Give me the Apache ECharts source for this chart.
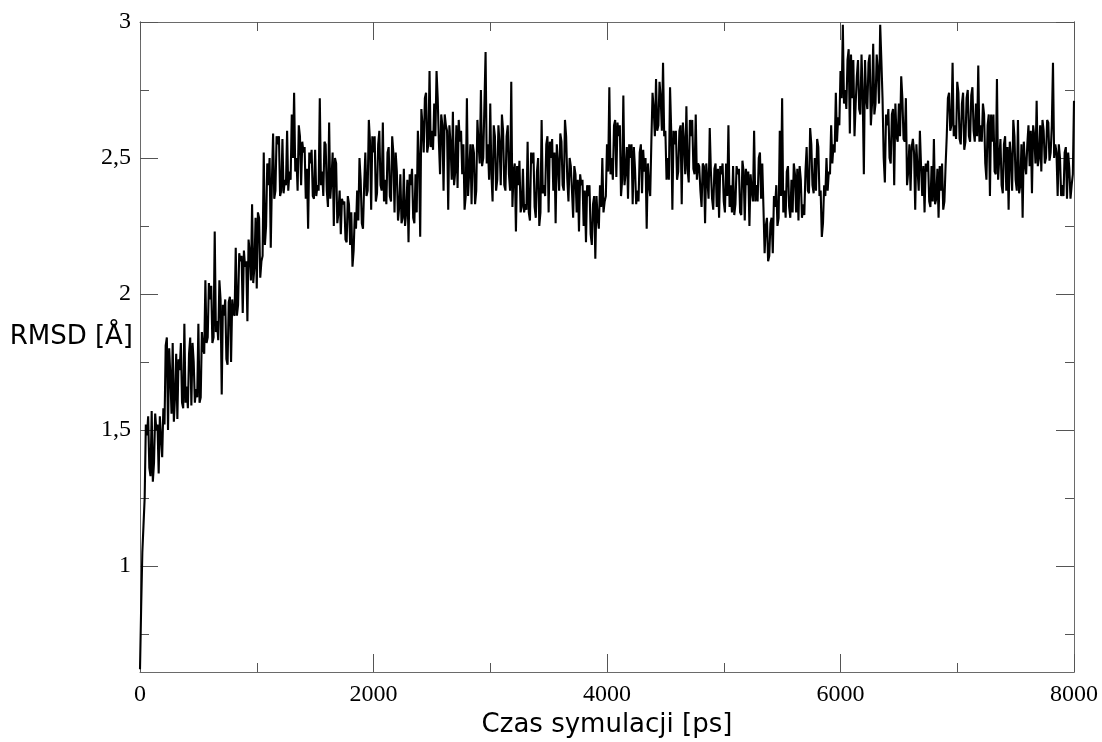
<!DOCTYPE html>
<html>
<head>
<meta charset="utf-8">
<script src="https://cdn.jsdelivr.net/npm/echarts@6/dist/echarts.min.js"></script>
<style>
html,body{margin:0;padding:0;background:#fff;}
#chart{width:1102px;height:742px;}
</style>
</head>
<body>
<div id="chart"></div>
<script>
// Trace with two interleaved samplings:
// rmsdAt20ps: values at t = 0, 20, 40, ... 8000 ps
// rmsdOffset10ps: values at t = 10, 30, 50, ... 7990 ps
const timeStepPs = 20;
const rmsdAt20ps = [
  0.62,1.05,1.25,1.48,1.36,1.57,1.38,1.50,1.34,1.47, // 0
  1.58,1.81,1.50,1.70,1.82,1.62,1.54,1.72,1.60,1.89, // 200
  1.66,1.78,1.59,1.75,1.65,1.89,1.62,1.80,2.05,1.84, // 400
  1.98,1.82,2.23,1.90,2.05,1.63,1.92,1.76,1.97,1.75, // 600
  1.93,2.17,1.96,2.12,1.93,2.10,1.90,2.15,2.33,2.10, // 800
  2.02,2.28,2.12,2.52,2.25,2.40,2.17,2.59,2.38,2.55, // 1000
  2.36,2.57,2.42,2.60,2.45,2.66,2.74,2.50,2.62,2.40, // 1200
  2.52,2.35,2.24,2.48,2.36,2.53,2.40,2.72,2.45,2.56, // 1400
  2.38,2.63,2.42,2.25,2.48,2.30,2.22,2.33,2.20,2.36, // 1600
  2.18,2.10,2.30,2.38,2.50,2.26,2.40,2.36,2.64,2.31, // 1800
  2.52,2.34,2.55,2.40,2.63,2.42,2.52,2.36,2.58,2.30, // 2000
  2.45,2.32,2.26,2.46,2.30,2.19,2.40,2.28,2.44,2.60, // 2200
  2.21,2.62,2.72,2.52,2.82,2.60,2.70,2.82,2.56,2.66, // 2400
  2.38,2.62,2.31,2.55,2.67,2.45,2.39,2.56,2.44,2.31, // 2600
  2.72,2.45,2.33,2.52,2.38,2.55,2.75,2.50,2.89,2.55, // 2800
  2.70,2.34,2.58,2.42,2.55,2.66,2.40,2.58,2.44,2.78, // 3000
  2.45,2.23,2.40,2.30,2.46,2.33,2.56,2.27,2.48,2.32, // 3200
  2.45,2.25,2.64,2.40,2.55,2.30,2.50,2.38,2.26,2.48, // 3400
  2.59,2.40,2.64,2.42,2.50,2.38,2.47,2.30,2.23,2.40, // 3600
  2.25,2.19,2.36,2.22,2.33,2.13,2.28,2.40,2.50,2.34, // 3800
  2.55,2.76,2.50,2.62,2.43,2.58,2.36,2.73,2.45,2.35, // 4000
  2.50,2.33,2.46,2.38,2.52,2.37,2.45,2.24,2.40,2.56, // 4200
  2.68,2.79,2.62,2.72,2.85,2.60,2.50,2.76,2.31,2.55, // 4400
  2.42,2.60,2.33,2.56,2.69,2.41,2.58,2.46,2.66,2.48, // 4600
  2.38,2.48,2.26,2.42,2.61,2.35,2.46,2.32,2.28,2.44, // 4800
  2.34,2.48,2.62,2.40,2.47,2.33,2.44,2.30,2.49,2.27, // 5000
  2.40,2.25,2.38,2.60,2.40,2.50,2.35,2.32,2.25,2.12, // 5200
  2.26,2.15,2.32,2.25,2.60,2.72,2.38,2.45,2.32,2.42, // 5400
  2.48,2.30,2.27,2.42,2.33,2.45,2.38,2.61,2.40,2.50, // 5600
  2.57,2.36,2.21,2.40,2.50,2.45,2.62,2.55,2.74,2.65, // 5800
  2.82,2.99,2.75,2.86,2.59,2.72,2.58,2.80,2.68,2.88, // 6000
  2.44,2.72,2.85,2.62,2.92,2.70,2.82,2.99,2.72,2.41, // 6200
  2.62,2.50,2.66,2.40,2.58,2.70,2.80,2.57,2.72,2.45, // 6400
  2.38,2.57,2.31,2.46,2.60,2.36,2.30,2.45,2.34,2.47, // 6600
  2.57,2.35,2.28,2.38,2.31,2.47,2.72,2.60,2.85,2.62, // 6800
  2.78,2.57,2.70,2.53,2.72,2.58,2.73,2.60,2.70,2.84, // 7000
  2.62,2.70,2.48,2.62,2.36,2.56,2.45,2.79,2.50,2.40, // 7200
  2.55,2.38,2.31,2.50,2.64,2.42,2.64,2.40,2.28,2.48, // 7400
  2.55,2.47,2.37,2.58,2.71,2.50,2.45,2.60,2.50,2.63, // 7600
  2.52,2.85,2.55,2.36,2.50,2.40,2.52,2.35,2.46,2.40, // 7800
  2.71                                                // 8000
];
const rmsdOffset10ps = [
  0.85,1.15,1.52,1.55,1.33,1.31,1.56,1.52,1.55,1.40, // 10
  1.52,1.84,1.80,1.56,1.53,1.78,1.76,1.82,1.58,1.60, // 210
  1.58,1.84,1.82,1.60,1.62,1.60,1.86,1.78,1.82,2.04, // 410
  2.03,1.84,1.86,1.83,1.98,1.96,1.98,1.74,1.99,1.98, // 610
  1.92,1.92,2.15,2.14,2.16,2.12,2.20,2.05,2.04,2.28, // 810
  2.30,2.06,2.14,2.18,2.48,2.50,2.42,2.35,2.58,2.58, // 1010
  2.38,2.37,2.40,2.38,2.42,2.50,2.45,2.38,2.58,2.56, // 1210
  2.54,2.46,2.52,2.53,2.35,2.36,2.38,2.40,2.36,2.55, // 1410
  2.32,2.35,2.52,2.50,2.26,2.38,2.35,2.34,2.19,2.33, // 1610
  2.30,2.16,2.24,2.27,2.42,2.24,2.52,2.38,2.56,2.58, // 1810
  2.58,2.37,2.60,2.38,2.34,2.33,2.54,2.34,2.52,2.52, // 2010
  2.27,2.44,2.28,2.25,2.42,2.44,2.46,2.26,2.30,2.50, // 2210
  2.68,2.52,2.74,2.55,2.54,2.53,2.58,2.72,2.44,2.62, // 2410
  2.66,2.60,2.62,2.42,2.40,2.62,2.64,2.60,2.55,2.36, // 2610
  2.36,2.55,2.55,2.33,2.64,2.48,2.47,2.50,2.48,2.42, // 2810
  2.44,2.62,2.38,2.62,2.40,2.60,2.38,2.62,2.38,2.32, // 3010
  2.48,2.47,2.49,2.32,2.30,2.31,2.30,2.52,2.52,2.28, // 3210
  2.50,2.30,2.37,2.36,2.58,2.56,2.57,2.52,2.55,2.38, // 3410
  2.56,2.38,2.58,2.34,2.47,2.28,2.44,2.42,2.44,2.42, // 3610
  2.38,2.40,2.40,2.18,2.36,2.36,2.24,2.32,2.30,2.36, // 3810
  2.45,2.44,2.42,2.64,2.63,2.62,2.42,2.40,2.54,2.55, // 4010
  2.55,2.54,2.33,2.34,2.55,2.53,2.50,2.48,2.36,2.74, // 4210
  2.58,2.60,2.78,2.60,2.58,2.42,2.42,2.60,2.60,2.60, // 4410
  2.45,2.62,2.63,2.44,2.46,2.64,2.64,2.44,2.42,2.47, // 4610
  2.32,2.47,2.48,2.35,2.45,2.31,2.48,2.46,2.47,2.48, // 4810
  2.30,2.36,2.32,2.30,2.29,2.47,2.46,2.29,2.45,2.46, // 5010
  2.45,2.44,2.34,2.34,2.34,2.52,2.48,2.15,2.28,2.14, // 5210
  2.28,2.36,2.40,2.28,2.36,2.30,2.28,2.47,2.28,2.30, // 5410
  2.44,2.46,2.47,2.28,2.29,2.54,2.37,2.55,2.37,2.38, // 5610
  2.54,2.38,2.26,2.36,2.38,2.44,2.48,2.52,2.56,2.62, // 5810
  2.72,2.70,2.68,2.90,2.88,2.86,2.70,2.86,2.66,2.74, // 6010
  2.86,2.68,2.88,2.70,2.66,2.88,2.70,2.86,2.50,2.66, // 6210
  2.68,2.48,2.68,2.70,2.56,2.58,2.72,2.56,2.40,2.55, // 6410
  2.54,2.52,2.55,2.38,2.47,2.47,2.48,2.49,2.32,2.34, // 6610
  2.33,2.46,2.47,2.48,2.34,2.58,2.74,2.62,2.58,2.57, // 6810
  2.74,2.55,2.74,2.56,2.75,2.56,2.76,2.56,2.58,2.56, // 7010
  2.56,2.66,2.42,2.66,2.66,2.66,2.44,2.42,2.57,2.37, // 7210
  2.58,2.54,2.56,2.38,2.58,2.38,2.37,2.55,2.56,2.44, // 7410
  2.62,2.60,2.62,2.48,2.47,2.62,2.64,2.48,2.64,2.49, // 7610
  2.62,2.50,2.52,2.55,2.36,2.36,2.54,2.52,2.35,2.44  // 7810
];
const yMajorTicks = [1, 1.5, 2, 2.5, 3];
const yMinorTicks = [0.75, 1.25, 1.75, 2.25, 2.75];
const xTitle = 'Czas symulacji [ps]';
const yTitle = 'RMSD [Å]';

// merge the two samplings in time order
const seriesData = [];
rmsdAt20ps.forEach((v, i) => {
  seriesData.push([i * timeStepPs, v]);
  if (i < rmsdOffset10ps.length) seriesData.push([i * timeStepPs + timeStepPs / 2, rmsdOffset10ps[i]]);
});

const axisGray = '#6a6a6a';
const tickGray = '#555';
const labelFont = {fontFamily: 'Liberation Serif', fontSize: 24, color: '#000'};
const titleFont = {fontFamily: 'DejaVu Sans', fontSize: 26, color: '#000'};

const yBase = {type: 'value', min: 0.61, max: 3, splitLine: {show: false},
  axisLine: {show: true, onZero: false, lineStyle: {color: axisGray, width: 1}}};

const chart = echarts.init(document.getElementById('chart'), null, {renderer: 'canvas'});
chart.setOption({
  animation: false,
  backgroundColor: '#fff',
  grid: {left: 140, top: 22, right: 28, bottom: 70, containLabel: false, outerBoundsMode: 'none'},
  graphic: [{
    type: 'text', x: 133, y: 337, silent: true,
    style: {text: yTitle, align: 'right', verticalAlign: 'middle',
      font: '26px "DejaVu Sans"', fill: '#000'}
  }],
  xAxis: [
    {type: 'value', min: 0, max: 8000, interval: 2000, position: 'bottom',
      axisLine: {show: true, onZero: false, lineStyle: {color: axisGray, width: 1}},
      axisTick: {show: true, inside: true, length: 18, lineStyle: {color: tickGray, width: 1}},
      minorTick: {show: true, splitNumber: 2, length: 9, lineStyle: {color: tickGray, width: 1}},
      axisLabel: Object.assign({margin: 11, formatter: v => String(v)}, labelFont),
      splitLine: {show: false}, minorSplitLine: {show: false},
      name: xTitle, nameLocation: 'middle', nameGap: 27, nameTextStyle: titleFont},
    {type: 'value', min: 0, max: 8000, interval: 2000, position: 'top',
      axisLine: {show: true, onZero: false, lineStyle: {color: axisGray, width: 1}},
      axisTick: {show: true, inside: true, length: 18, lineStyle: {color: tickGray, width: 1}},
      minorTick: {show: true, splitNumber: 2, length: 9, lineStyle: {color: tickGray, width: 1}},
      axisLabel: {show: false}, splitLine: {show: false}, minorSplitLine: {show: false}}
  ],
  yAxis: [
    Object.assign({}, yBase, {position: 'left',
      axisTick: {show: true, inside: true, length: 18, customValues: yMajorTicks, lineStyle: {color: tickGray, width: 1}},
      axisLabel: Object.assign({margin: 9, customValues: yMajorTicks,
        formatter: v => String(v).replace('.', ',')}, labelFont)}),
    Object.assign({}, yBase, {position: 'left',
      axisTick: {show: true, inside: true, length: 9, customValues: yMinorTicks, lineStyle: {color: tickGray, width: 1}},
      axisLabel: {show: false, customValues: yMinorTicks}}),
    Object.assign({}, yBase, {position: 'right',
      axisTick: {show: true, inside: true, length: 18, customValues: yMajorTicks, lineStyle: {color: tickGray, width: 1}},
      axisLabel: {show: false, customValues: yMajorTicks}}),
    Object.assign({}, yBase, {position: 'right',
      axisTick: {show: true, inside: true, length: 9, customValues: yMinorTicks, lineStyle: {color: tickGray, width: 1}},
      axisLabel: {show: false, customValues: yMinorTicks}})
  ],
  series: [{
    type: 'line', xAxisIndex: 0, yAxisIndex: 0, data: seriesData,
    showSymbol: false, symbol: 'none', sampling: false, smooth: false,
    lineStyle: {color: '#000', width: 2.1, join: 'miter', miterLimit: 2}, z: 1
  }]
});
</script>
</body>
</html>
